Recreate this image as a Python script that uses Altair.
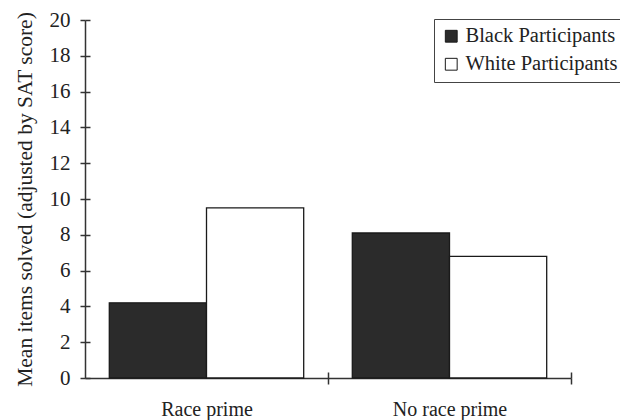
import altair as alt
import pandas as pd

conditions = ["Race prime", "Race prime", "No race prime", "No race prime"]
groups = ["Black Participants", "White Participants", "Black Participants", "White Participants"]
values = [4.2, 9.5, 8.1, 6.8]

cond_order = ["Race prime", "No race prime"]
group_order = ["Black Participants", "White Participants"]
group_colors = ["#2b2b2b", "#ffffff"]

df = pd.DataFrame({"condition": conditions, "group": groups, "value": values})

FONT = "Liberation Serif"
W, H = 486, 358
STEP = W / 2.0  # band step with paddingInner 0.2 / paddingOuter 0.1

xscale = alt.Scale(domain=cond_order, paddingInner=0.2, paddingOuter=0.1)
yscale = alt.Scale(domain=[0, 20], nice=False)
yvals = list(range(0, 21, 2))

base = alt.Chart(df)

bars = base.mark_bar(stroke="#1a1a1a", strokeWidth=1.3).encode(
    x=alt.X("condition:N", scale=xscale, sort=cond_order,
            axis=alt.Axis(title=None, labelAngle=0, labelFont=FONT, labelFontSize=20,
                          labelColor="#222", labelPadding=15, tickSize=6,
                          tickOffset=STEP / 2, labelOffset=-STEP / 2,
                          tickColor="#333", domainColor="#333",
                          domainWidth=1.5, tickWidth=1.5)),
    xOffset=alt.XOffset("group:N", sort=group_order, scale=alt.Scale(paddingInner=0, paddingOuter=0)),
    y=alt.Y("value:Q", scale=yscale,
            axis=alt.Axis(title="Mean items solved (adjusted by SAT score)", values=yvals,
                          grid=False, labelFont=FONT, labelFontSize=21, labelColor="#222",
                          titleFont=FONT, titleFontSize=21.5, titleFontWeight="normal", titleColor="#222",
                          titlePadding=13, tickSize=5, labelPadding=10, tickColor="#333",
                          domainColor="#333", domainWidth=1.5, tickWidth=1.5)),
    color=alt.Color("group:N", sort=group_order,
                    scale=alt.Scale(domain=group_order, range=group_colors),
                    legend=alt.Legend(title=None, orient="none", legendX=349, legendY=-1,
                                      labelFont=FONT, labelFontSize=20.5, labelColor="#222",
                                      symbolType="square", symbolSize=140, symbolStrokeColor="#1a1a1a",
                                      symbolStrokeWidth=1, labelOffset=4, rowPadding=7,
                                      strokeColor="#444", padding=7, fillColor="white")),
)

ticks_inner = base.mark_bar(opacity=0).encode(
    x=alt.X("condition:N", scale=xscale, sort=cond_order,
            axis=alt.Axis(title=None, orient="top", offset=-H, labels=False, domain=False,
                          tickSize=6, tickOffset=STEP / 2, tickColor="#333", tickWidth=1.5)),
    xOffset=alt.XOffset("group:N", sort=group_order),
    y=alt.Y("value:Q", scale=yscale,
            axis=alt.Axis(title=None, orient="right", offset=-W, labels=False, domain=False,
                          values=yvals, grid=False, tickSize=5,
                          tickColor="#333", tickWidth=1.5)),
)

chart = alt.layer(bars, ticks_inner).resolve_axis(x="independent", y="independent").properties(
    width=W, height=H,
    autosize=alt.AutoSizeParams(type="none"),
    padding={"left": 77, "top": 12, "right": 49, "bottom": 44},
    background="white",
).configure_view(stroke=None)

chart.save("out.html", embed_options={"renderer": "svg", "actions": False})
